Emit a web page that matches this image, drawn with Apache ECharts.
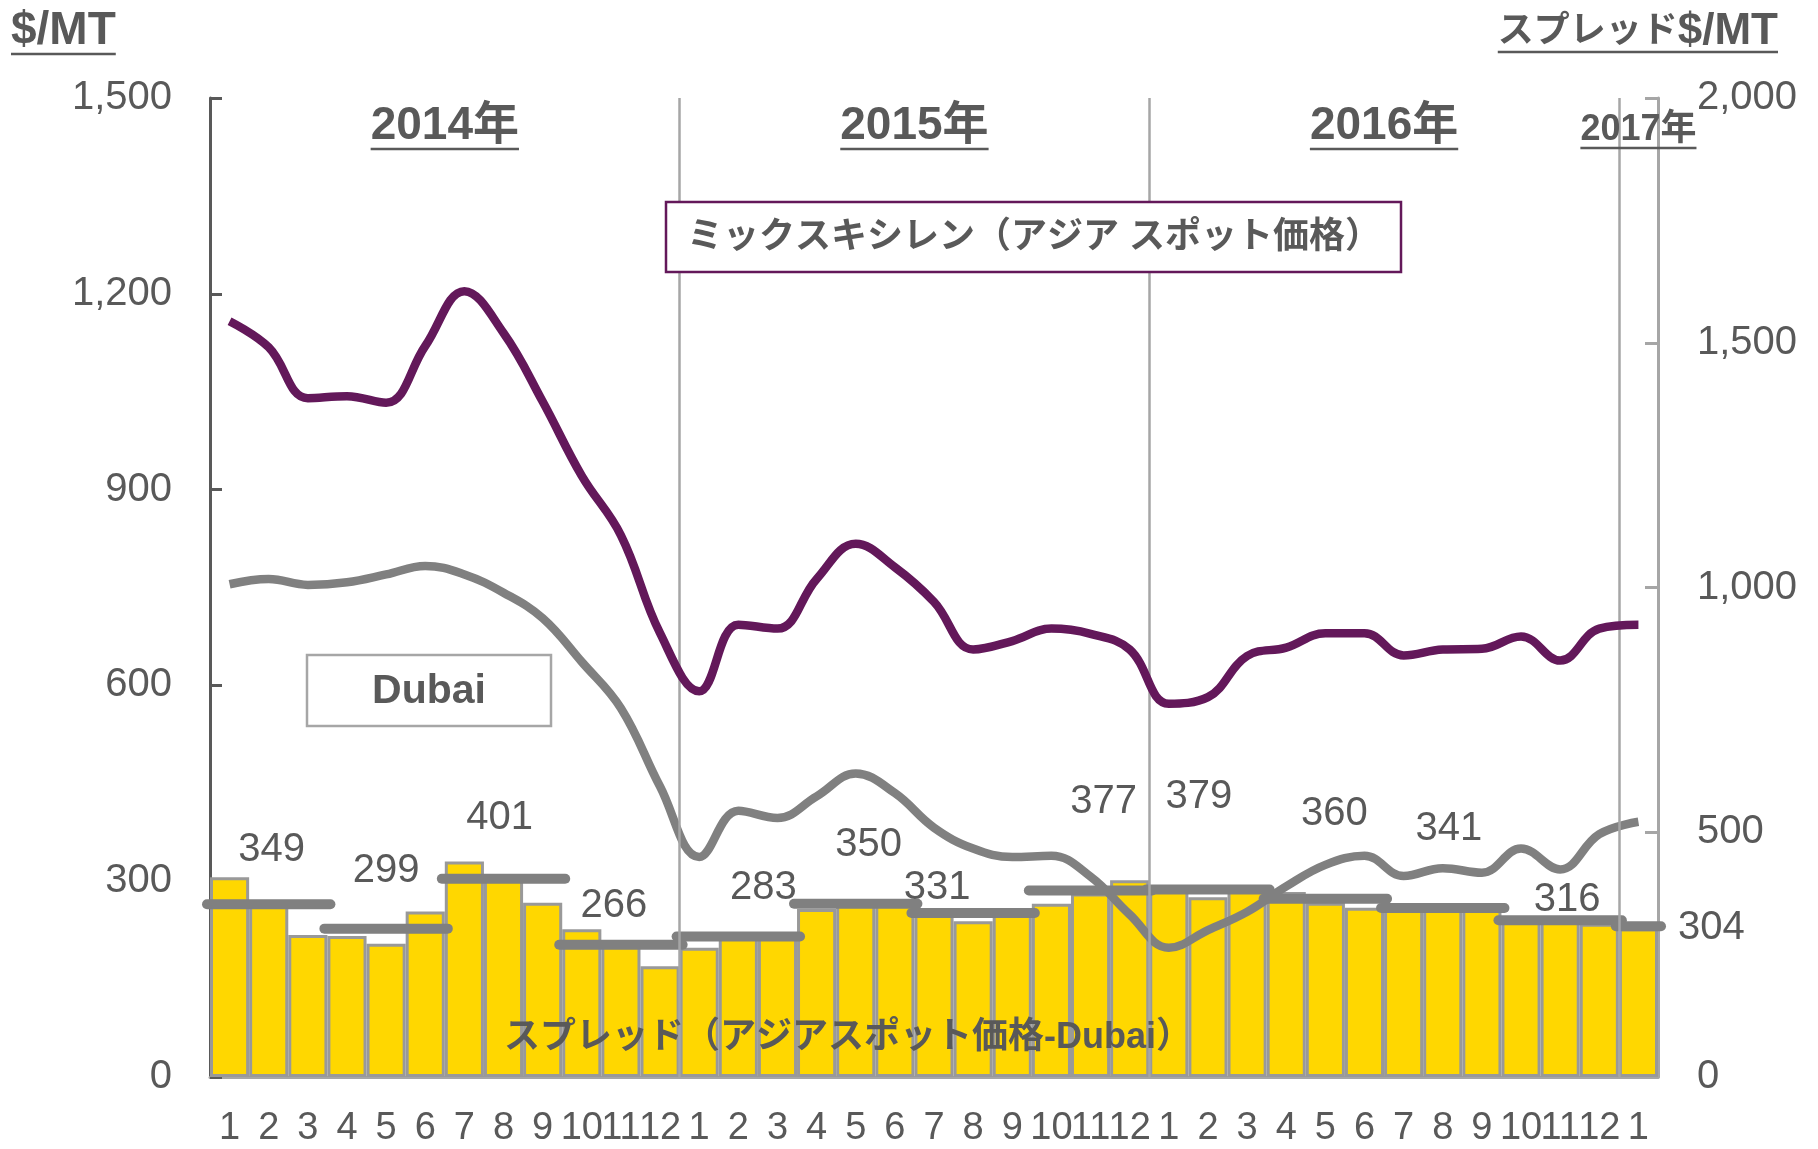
<!DOCTYPE html>
<html>
<head>
<meta charset="utf-8">
<title>ミックスキシレン スプレッド</title>
<script src="https://cdn.jsdelivr.net/npm/echarts@6/dist/echarts.min.js"></script>
<style>
html,body{margin:0;padding:0;background:#fff;}
#main{width:1818px;height:1149px;}
</style>
</head>
<body>
<div id="main"></div>
<script>
// 月 (2014/1 - 2017/1)
var months = ['1','2','3','4','5','6','7','8','9','10','11','12',
              '1','2','3','4','5','6','7','8','9','10','11','12',
              '1','2','3','4','5','6','7','8','9','10','11','12','1'];
// ミックスキシレン(アジア スポット価格) $/MT
var xyleneAsia = [1158,1118,1040,1043,1033,1120,1204,1140,1035,921,830,680,
                  591,693,687,763,817,781,728,655,668,687,679,655,
                  572,582,645,658,680,680,646,655,656,675,638,687,693];
// Dubai $/MT
var dubai = [755,763,754,758,770,783,770,742,703,636,565,445,
             337,408,397,430,465,435,382,350,337,339,307,249,
             198,225,253,292,325,339,308,320,313,350,318,372,391];
// スプレッド $/MT (右軸)
var spread = [408,352,290,288,272,338,440,408,356,302,270,226,
              264,292,293,343,353,354,336,318,339,354,375,402,
              385,367,385,378,356,346,341,341,341,318,317,313,304];
// 四半期平均スプレッド
var quarterStart = [0,3,6,9,12,15,18,21,24,27,30,33,36];
var quarterEnd   = [3,6,9,12,15,18,21,24,27,30,33,36,37];
var quarterAvg   = [349,299,401,266,283,350,331,377,379,360,341,316,304];
// 年の区切り
var yearLabels = ['2014年','2015年','2016年','2017年'];
var yearMid = [6,18,30,36.5];
var yearBounds = [12,24,36];

// ラベルの位置調整(px) - 見た目のみ
var quarterLabelShift = [[3,-56],[0,-60],[-4,-63],[-7,-41],[25,-51],[13,-61],[-36,-27],
                         [13,-90],[-9,-95],[9,-87],[6,-81],[7,-22],[0,0]];

var FONT = "'Liberation Sans', Arial, 'Noto Sans CJK JP', sans-serif";
var TXT = '#595959';

var _myChart = echarts.init(document.getElementById('main'));

var option = {
    animation: false,
    grid: {left: 210, right: 160, top: 98, bottom: 72, containLabel: false, outerBoundsMode: 'none'},
    xAxis: [
        {
            type: 'category',
            data: months,
            axisLine: {show: true, lineStyle: {color: '#A6A6A6', width: 3}},
            axisTick: {show: false},
            axisLabel: {interval: 0, margin: 33, color: TXT, fontSize: 38, fontFamily: FONT},
            splitLine: {show: false}
        },
        {
            type: 'value', min: 0, max: 37, show: false
        }
    ],
    yAxis: [
        {
            type: 'value', min: 0, max: 1500, interval: 300, position: 'left',
            axisLine: {show: true, lineStyle: {color: '#595959', width: 3}},
            axisTick: {show: true, inside: true, length: 12, lineStyle: {color: '#595959', width: 3}},
            axisLabel: {margin: 38, color: TXT, fontSize: 40, fontFamily: FONT,
                formatter: function (v) { return v.toLocaleString('en-US'); }},
            splitLine: {show: false}
        },
        {
            type: 'value', min: 0, max: 2000, interval: 500, position: 'right',
            axisLine: {show: true, lineStyle: {color: '#A6A6A6', width: 3}},
            axisTick: {show: true, inside: true, length: 13, lineStyle: {color: '#A6A6A6', width: 3}},
            axisLabel: {margin: 39, color: TXT, fontSize: 40, fontFamily: FONT,
                formatter: function (v) { return v.toLocaleString('en-US'); }},
            splitLine: {show: false}
        }
    ],
    series: [
        {   // 年の区切り線
            type: 'line', xAxisIndex: 1, yAxisIndex: 0, data: [], z: 1,
            markLine: {
                silent: true, symbol: 'none', animation: false,
                label: {show: false},
                lineStyle: {color: '#A6A6A6', width: 2.5, type: 'solid'},
                data: yearBounds.map(function (v) { return {xAxis: v}; })
            }
        },
        {
            name: 'スプレッド', type: 'bar', xAxisIndex: 0, yAxisIndex: 1, z: 2,
            barCategoryGap: '0%',
            itemStyle: {color: '#FFD700', borderColor: '#999999', borderWidth: 3},
            data: spread
        },
        {   // 四半期平均
            type: 'custom', xAxisIndex: 1, yAxisIndex: 1, z: 3, clip: false,
            encode: {x: [0, 1], y: 2},
            data: quarterStart.map(function (s, i) { return [s, quarterEnd[i], quarterAvg[i]]; }),
            renderItem: function (params, api) {
                var s = api.coord([api.value(0), api.value(2)]);
                var e = api.coord([api.value(1), api.value(2)]);
                var sh = quarterLabelShift[params.dataIndex];
                var last = params.dataIndex === quarterAvg.length - 1;
                return {
                    type: 'group',
                    children: [
                        {type: 'line', shape: {x1: s[0] - 3, y1: s[1] - 2, x2: e[0] + 3, y2: e[1] - 2},
                            style: {stroke: '#808080', lineWidth: 10, lineCap: 'round'}},
                        {type: 'text', z2: 10,
                            x: last ? e[0] + 20 : (s[0] + e[0]) / 2 + sh[0],
                            y: s[1] + sh[1],
                            style: {text: String(api.value(2)), fill: TXT,
                                font: '40px ' + FONT,
                                align: last ? 'left' : 'center', verticalAlign: 'middle'}}
                    ]
                };
            }
        },
        {
            name: 'Dubai', type: 'line', xAxisIndex: 0, yAxisIndex: 0, z: 4,
            smooth: 0.4, symbol: 'none',
            lineStyle: {color: '#808080', width: 8.5},
            data: dubai
        },
        {
            name: 'ミックスキシレン', type: 'line', xAxisIndex: 0, yAxisIndex: 0, z: 5,
            smooth: 0.4, symbol: 'none',
            lineStyle: {color: '#63185A', width: 8.5},
            data: xyleneAsia
        }
    ]
};
_myChart.setOption(option);

// 注記テキスト
var ctx = document.createElement('canvas').getContext('2d');
function textW(str, font) { ctx.font = font; return ctx.measureText(str).width; }

function underlined(str, cx, cy, size, align) {
    var font = 'bold ' + size + 'px ' + FONT;
    var w = textW(str, font);
    var x0 = align === 'right' ? cx - w : (align === 'left' ? cx : cx - w / 2);
    var uy = cy + size * 0.5;
    return [
        {type: 'text', x: cx, y: cy, z: 100,
            style: {text: str, font: font, fill: TXT, align: align, verticalAlign: 'middle'}},
        {type: 'line', z: 100, shape: {x1: x0, y1: uy, x2: x0 + w, y2: uy},
            style: {stroke: TXT, lineWidth: 2.5}}
    ];
}

var graphics = [];
yearLabels.forEach(function (t, i) {
    var px = _myChart.convertToPixel({xAxisIndex: 1}, yearMid[i]);
    var size = i === 3 ? 36 : 46;
    graphics = graphics.concat(underlined(t, px, i === 3 ? 130 : 126, size, 'center'));
});
graphics = graphics.concat(underlined('$/MT', 11, 31, 46, 'left'));
// スプレッド$/MT
(function () {
    var f1 = 'bold 36px ' + FONT, f2 = 'bold 44px ' + FONT;
    var w = textW('スプレッド', f1) + textW('$/MT', f2);
    var right = 1778;
    graphics.push({type: 'text', x: right, y: 32, z: 100,
        style: {text: '{a|スプレッド}{b|$/MT}', align: 'right', verticalAlign: 'middle',
            rich: {a: {font: f1, fill: TXT}, b: {font: f2, fill: TXT}}}});
    graphics.push({type: 'line', z: 100, shape: {x1: right - w, y1: 52, x2: right, y2: 52},
        style: {stroke: TXT, lineWidth: 2.5}});
})();
// 凡例ボックス
graphics.push({type: 'rect', z: 100, shape: {x: 666, y: 202, width: 735, height: 70},
    style: {fill: '#fff', stroke: '#63185A', lineWidth: 2.5}});
graphics.push({type: 'text', z: 101, x: 1034, y: 238,
    style: {text: 'ミックスキシレン（アジア スポット価格）', font: 'bold 36px ' + FONT, fill: TXT,
        align: 'center', verticalAlign: 'middle'}});
graphics.push({type: 'rect', z: 100, shape: {x: 307, y: 655, width: 244, height: 71},
    style: {fill: '#fff', stroke: '#A6A6A6', lineWidth: 2.5}});
graphics.push({type: 'text', z: 101, x: 429, y: 692,
    style: {text: 'Dubai', font: 'bold 41px ' + FONT, fill: TXT, align: 'center', verticalAlign: 'middle'}});
graphics.push({type: 'text', z: 101, x: 848, y: 1038,
    style: {text: 'スプレッド（アジアスポット価格-Dubai）', font: 'bold 36px ' + FONT, fill: TXT,
        align: 'center', verticalAlign: 'middle'}});

_myChart.setOption({graphic: graphics});
</script>
</body>
</html>
